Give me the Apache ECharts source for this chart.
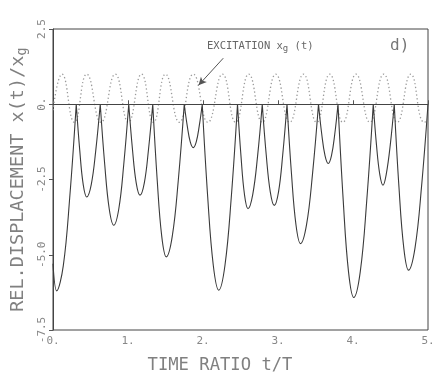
<!DOCTYPE html>
<html>
<head>
<meta charset="utf-8">
<script src="https://cdn.jsdelivr.net/npm/echarts@6/dist/echarts.min.js"></script>
<style>html,body{margin:0;padding:0;background:#fff;}#c{width:434px;height:380px;}</style>
</head>
<body>
<div id="c"></div>
<script>
// Response x(t)/xg: arcs between impacts (breaks marked with '-')
var respT = [0, 0.05, 0.137, 0.223, 0.31, 0.31,
  0.31, 0.357, 0.403, 0.45, 0.51, 0.57, 0.63, 0.63,
  0.63, 0.69, 0.75, 0.81, 0.877, 0.943, 1.01, 1.01,
  1.01, 1.06, 1.11, 1.16, 1.217, 1.273, 1.33, 1.33,
  1.33, 1.39, 1.45, 1.51, 1.59, 1.67, 1.75, 1.75,
  1.75, 1.79, 1.83, 1.87, 1.91, 1.95, 1.99, 1.99,
  1.99, 2.063, 2.137, 2.21, 2.293, 2.377, 2.46, 2.46,
  2.46, 2.507, 2.553, 2.60, 2.663, 2.727, 2.79, 2.79,
  2.79, 2.843, 2.897, 2.95, 3.007, 3.063, 3.12, 3.12,
  3.12, 3.18, 3.24, 3.30, 3.38, 3.46, 3.54, 3.54,
  3.54, 3.583, 3.627, 3.67, 3.713, 3.757, 3.80, 3.80,
  3.80, 3.87, 3.94, 4.01, 4.097, 4.183, 4.27, 4.27,
  4.27, 4.313, 4.357, 4.40, 4.443, 4.497, 4.55, 4.55,
  4.55, 4.613, 4.677, 4.74, 4.827, 4.913, 5.00];
var respV = [-5.3, -6.2, -5.37, -3.1, 0, '-',
  0, -1.54, -2.67, -3.08, -2.67, -1.54, 0, '-',
  0, -2.01, -3.48, -4.02, -3.48, -2.01, 0, '-',
  0, -1.51, -2.62, -3.02, -2.62, -1.51, 0, '-',
  0, -2.54, -4.39, -5.07, -4.39, -2.54, 0, '-',
  0, -0.72, -1.25, -1.44, -1.25, -0.72, 0, '-',
  0, -3.09, -5.35, -6.18, -5.35, -3.09, 0, '-',
  0, -1.74, -3.0, -3.47, -3.0, -1.74, 0, '-',
  0, -1.68, -2.91, -3.36, -2.91, -1.68, 0, '-',
  0, -2.32, -4.01, -4.63, -4.01, -2.32, 0, '-',
  0, -0.99, -1.71, -1.97, -1.71, -0.99, 0, '-',
  0, -3.21, -5.56, -6.42, -5.56, -3.21, 0, '-',
  0, -1.35, -2.33, -2.69, -2.33, -1.35, 0, '-',
  0, -2.76, -4.77, -5.51, -4.77, -2.76, 0];
// Excitation xg(t) (dotted)
var excT = [0, 0.12, 0.285, 0.45, 0.64, 0.83, 1.005, 1.18, 1.34, 1.50, 1.685, 1.87, 2.065, 2.26, 2.435,
  2.61, 2.79, 2.97, 3.155, 3.34, 3.515, 3.69, 3.865, 4.04, 4.225, 4.41, 4.59, 4.77, 4.95, 5.0];
var excV = [-0.2, 1.0, -0.6, 1.0, -0.6, 1.0, -0.6, 1.0, -0.6, 1.0, -0.6, 1.0, -0.6, 1.0, -0.6,
  1.0, -0.6, 1.0, -0.6, 1.0, -0.6, 1.0, -0.6, 1.0, -0.6, 1.0, -0.6, 1.0, -0.6, -0.55];
var xTickLabels = {0: '0.', 1: '1.', 2: '2.', 3: '3.', 4: '4.', 5: '5.'};
var yTickLabels = {'2.5': '2.5', '0': '0.', '-2.5': '-2.5', '-5': '-5.0', '-7.5': '-7.5'};

var FONT = '"DejaVu Sans Mono", monospace';
var chart = echarts.init(document.getElementById('c'), null, {renderer: 'canvas'});
chart.setOption({
  animation: false,
  backgroundColor: '#fff',
  grid: {left: 53, right: 6, top: 29, bottom: 50, containLabel: false, outerBoundsMode: 'none',
    show: true, borderColor: '#444', borderWidth: 1},
  xAxis: {
    type: 'value', min: 0, max: 5, interval: 1,
    axisLine: {show: true, lineStyle: {color: '#444', width: 1}},
    axisTick: {show: true, inside: true, length: 4, lineStyle: {color: '#555'}},
    axisLabel: {formatter: function (v) { return xTickLabels[v]; }, fontFamily: FONT, fontSize: 11, color: '#888', margin: 6},
    splitLine: {show: false}
  },
  yAxis: {
    type: 'value', min: -7.5, max: 2.5, interval: 2.5,
    name: 'REL.DISPLACEMENT x(t)/x{s|g}', nameLocation: 'middle', nameGap: 22,
    nameTextStyle: {fontFamily: FONT, fontSize: 18.5, color: '#808080',
      rich: {s: {fontFamily: FONT, fontSize: 14, color: '#808080', verticalAlign: 'bottom', padding: [8, 0, 0, 0]}}},
    axisLine: {show: true, lineStyle: {color: '#444', width: 1}},
    axisTick: {show: true, inside: false, length: 4, lineStyle: {color: '#555'}},
    axisLabel: {formatter: function (v) { return yTickLabels[String(v)]; }, rotate: 90, fontFamily: FONT, fontSize: 11, color: '#888', margin: 5},
    splitLine: {show: false}
  },
  series: [
    {
      type: 'line', name: 'excitation', showSymbol: false, smooth: true,
      data: excT.map(function (t, i) { return [t, excV[i]]; }),
      lineStyle: {color: '#9a9a9a', width: 1.3, type: [1.3, 2.5]},
      markLine: {
        silent: true, symbol: ['none', 'arrow'], symbolSize: [6, 8],
        lineStyle: {type: 'solid', color: '#555', width: 1},
        label: {show: false},
        data: [[{coord: [2.27, 1.53]}, {coord: [1.94, 0.63]}]]
      }
    },
    {
      type: 'line', name: 'response', showSymbol: false, smooth: 0.4, connectNulls: false,
      data: respT.map(function (t, i) { return [t, respV[i]]; }),
      lineStyle: {color: '#3a3a3a', width: 1.1},
      markLine: {
        silent: true, symbol: 'none', label: {show: false},
        lineStyle: {type: 'solid', color: '#444', width: 1},
        data: [{yAxis: 0}]
      }
    }
  ],
  graphic: [
    {type: 'text', left: 207, top: 41, style: {text: 'EXCITATION x{s|g} (t)', fontFamily: FONT, fontSize: 10.5, fill: '#666',
      rich: {s: {fontFamily: FONT, fontSize: 9, fill: '#666', padding: [5, 0, 0, 0]}}}},
    {type: 'text', left: 390, top: 38, style: {text: 'd)', fontFamily: FONT, fontSize: 16, fill: '#777'}},
    {type: 'text', x: 220, y: 366, style: {text: 'TIME RATIO t/T', fontFamily: FONT, fontSize: 17.2, fill: '#808080',
      align: 'center', verticalAlign: 'middle'}}
  ]
});
</script>
</body>
</html>
